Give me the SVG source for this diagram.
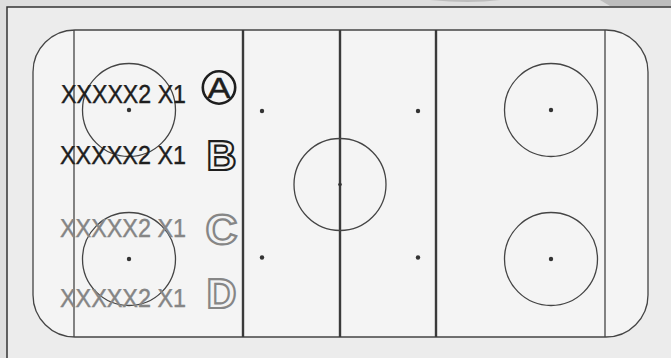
<svg xmlns="http://www.w3.org/2000/svg" width="671" height="358" viewBox="0 0 671 358">
<style>
text{text-rendering:geometricPrecision}
.thin{fill:none;stroke:#444;stroke-width:1.3}
.thick{fill:none;stroke:#3a3a3a;stroke-width:2.4}
.dot{fill:#333}
.lbl{font-family:"Liberation Sans",Arial,sans-serif;font-size:26px;stroke-width:0.4}
.dark{fill:#1e1e1e;stroke:#1e1e1e}
.grey{fill:#858585;stroke:#858585}
.big{font-family:"Liberation Sans",Arial,sans-serif;font-size:42px;font-weight:bold;stroke-width:2.2;fill:#f3f3f3}
</style>
<rect x="0" y="0" width="671" height="358" fill="#dedede"/>
<path d="M430 0 Q470 4 500 0 Z M600 0 L671 0 L671 6 L610 6 Z" fill="#bdbdbd"/>
<rect x="7" y="7" width="680" height="360" fill="#ececec" stroke="#333" stroke-width="1.5"/>
<g id="rink">
<rect x="33" y="30" width="615" height="307" rx="42" ry="42" fill="#f4f4f4" stroke="#444" stroke-width="1.3"/>
<line class="thin" x1="74" y1="30" x2="74" y2="337"/>
<line class="thin" x1="605" y1="30" x2="605" y2="337"/>
<line class="thick" x1="243" y1="30" x2="243" y2="337"/>
<line class="thick" x1="340" y1="30" x2="340" y2="337"/>
<line class="thick" x1="436" y1="30" x2="436" y2="337"/>
<circle class="thin" cx="129" cy="110" r="46.5"/>
<circle class="thin" cx="129" cy="259" r="46.5"/>
<circle class="thin" cx="551" cy="110" r="46.5"/>
<circle class="thin" cx="551" cy="259" r="46.5"/>
<circle class="thin" cx="340" cy="184.5" r="46"/>
<circle class="dot" cx="129" cy="110" r="2.2"/>
<circle class="dot" cx="129" cy="259" r="2.2"/>
<circle class="dot" cx="551" cy="110" r="2.2"/>
<circle class="dot" cx="551" cy="259" r="2.2"/>
<circle class="dot" cx="340" cy="184.5" r="1.8"/>
<circle class="dot" cx="262" cy="111" r="2.2"/>
<circle class="dot" cx="418" cy="111" r="2.2"/>
<circle class="dot" cx="262" cy="257.5" r="2.2"/>
<circle class="dot" cx="418" cy="257.5" r="2.2"/>
</g>
<g id="label-a">
<text class="lbl dark" x="61" y="103" textLength="125" lengthAdjust="spacingAndGlyphs">XXXXX2 X1</text>
<circle cx="219" cy="87.5" r="16.2" fill="none" stroke="#1e1e1e" stroke-width="2.6"/>
<text x="219" y="98" text-anchor="middle" font-family="Liberation Sans, Arial, sans-serif" font-size="29" fill="#1e1e1e" stroke="#1e1e1e" stroke-width="0.5" textLength="23" lengthAdjust="spacingAndGlyphs">A</text>
</g>
<g id="label-b">
<text class="lbl dark" x="60" y="164" textLength="126" lengthAdjust="spacingAndGlyphs">XXXXX2 X1</text>
<text class="big" x="206.5" y="170" stroke="#1e1e1e" textLength="30" lengthAdjust="spacingAndGlyphs">B</text>
</g>
<g id="label-c">
<text class="lbl grey" x="60" y="237" textLength="126" lengthAdjust="spacingAndGlyphs">XXXXX2 X1</text>
<text class="big" x="205.5" y="244" stroke="#868686" textLength="32" lengthAdjust="spacingAndGlyphs">C</text>
</g>
<g id="label-d">
<text class="lbl grey" x="60" y="307" textLength="126" lengthAdjust="spacingAndGlyphs">XXXXX2 X1</text>
<text class="big" x="206.5" y="307.5" stroke="#868686" textLength="30" lengthAdjust="spacingAndGlyphs">D</text>
</g>
</svg>
